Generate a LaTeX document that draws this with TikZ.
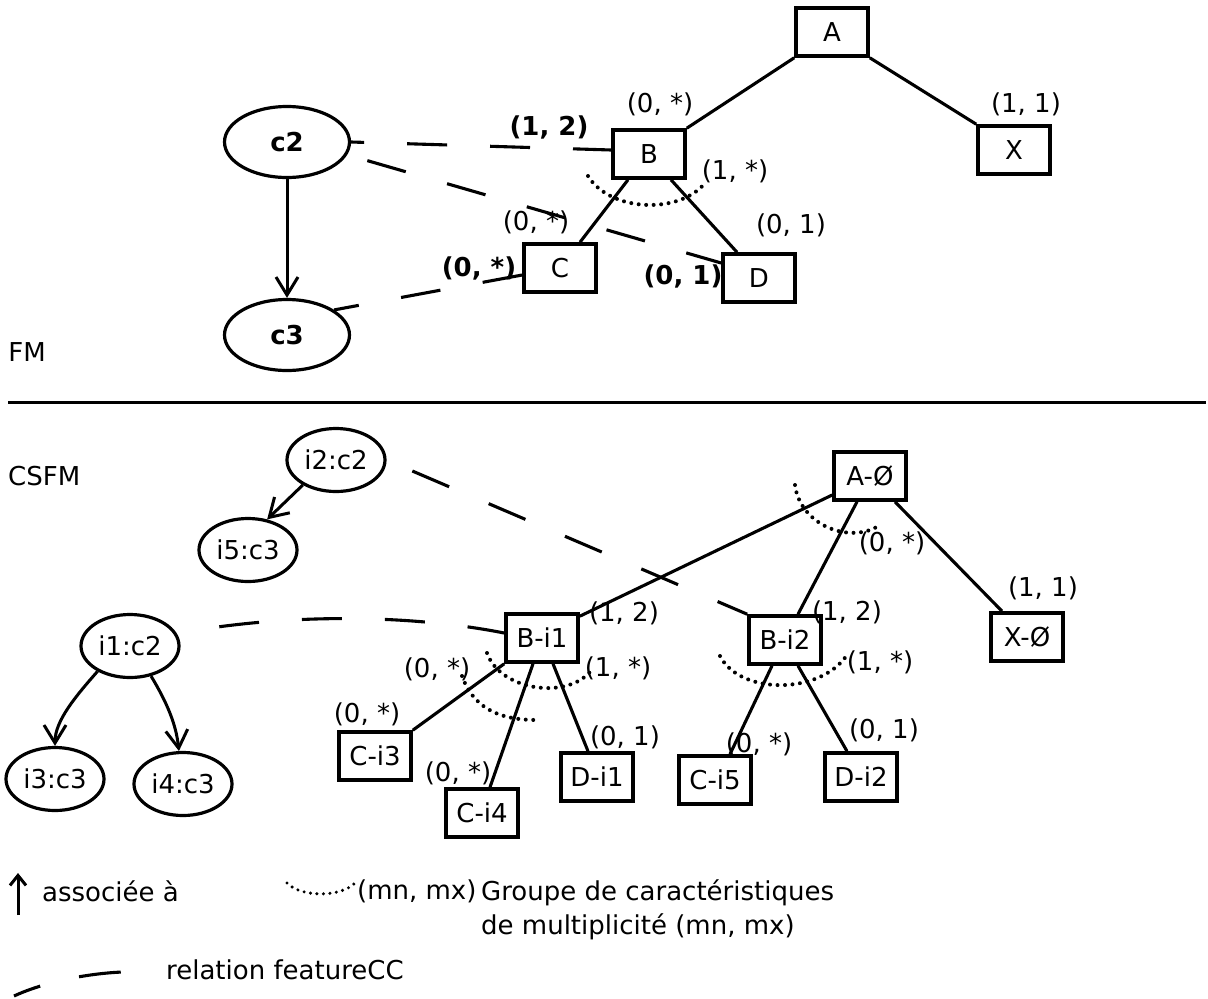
\documentclass[tikz,border=0pt]{standalone}
\usepackage{fontspec}
\setmainfont{DejaVu Sans}
\usetikzlibrary{arrows.meta,shapes.geometric}
\begin{document}
\begin{tikzpicture}[x=1pt,y=-1pt,
  every node/.style={font=\fontsize{26}{31}\selectfont},
  feat/.style={draw,line width=3.6pt,minimum width=72pt,minimum height=48pt,inner sep=0pt},
  cls/.style={draw,ellipse,line width=3.2pt,inner sep=0pt,minimum width=98pt,minimum height=63pt},
  bigcls/.style={cls,minimum width=125pt,minimum height=71pt},
  lbl/.style={inner sep=0pt},
  edge/.style={line width=3.1pt},
  cc/.style={line width=3.1pt,dash pattern=on 40pt off 43pt},
  grp/.style={line width=4pt,dash pattern=on 0pt off 7.5pt,line cap=round},
  assoc/.style={line width=3pt,-{Straight Barb[length=18pt,width=22pt]}},
  smallassoc/.style={line width=3pt,-{Straight Barb[length=10pt,width=16pt]}}]
\useasboundingbox (0,0) rectangle (1208,999);

% ---------------- FM ----------------
\node[feat] (A) at (832,32) {A};
\node[feat] (X) at (1014,150) {X};
\node[feat] (B) at (649,154) {B};
\node[feat] (C) at (560,268) {C};
\node[feat] (D) at (759,278) {D};
\node[bigcls] (c2) at (287,142) {\textbf{c2}};
\node[bigcls] (c3) at (287,335) {\textbf{c3}};

\draw[edge] (A.south west) -- (B.north east);
\draw[edge] (A.south east) -- (X.north west);
\draw[edge] ([xshift=-21pt]B.south) -- ([xshift=20pt]C.north);
\draw[edge] ([xshift=22pt]B.south) -- ([xshift=-22pt]D.north);
\draw[assoc] (c2.south) -- (c3.north);

\draw[cc,dash phase=27pt] (c2.east) -- ([yshift=4pt]B.west);
\draw[cc,dash phase=62pt] (c2.-12) -- ([yshift=15pt]D.west);
\draw[cc,dash phase=15pt] (c3.28) -- ([yshift=-7pt]C.west);

\draw[grp] (588,176) .. controls (610,212) and (680,215) .. (706,182);

\node[lbl] (lB) at (660,104) {(0, *)};
\node[lbl] (lX) at (1026,104) {(1, 1)};
\node[lbl] (lg) at (735,171) {(1, *)};
\node[lbl] (lC) at (536,222) {(0, *)};
\node[lbl] (lD) at (791,225) {(0, 1)};
\node[lbl] (mB) at (549,127) {\textbf{(1, 2)}};
\node[lbl] (mC) at (479,268) {\textbf{(0, *)}};
\node[lbl] (mD) at (683,276) {\textbf{(0, 1)}};

\node[lbl] (fm) at (27,352) {FM};
\coordinate (s1) at (8,402);
\coordinate (s2) at (1206,402);
\draw[line width=3pt] (s1) -- (s2);

% ---------------- CSFM ----------------
\node[lbl,anchor=west] (csfm) at (8,476) {CSFM};
\node[feat] (A0) at (870,476) {A-Ø};
\node[feat] (X0) at (1027,637) {X-Ø};
\node[feat] (Bi1) at (542,638) {B-i1};
\node[feat] (Bi2) at (785,640) {B-i2};
\node[feat] (Ci3) at (375,756) {C-i3};
\node[feat] (Ci4) at (482,813) {C-i4};
\node[feat] (Di1) at (597,777) {D-i1};
\node[feat] (Ci5) at (715,780) {C-i5};
\node[feat] (Di2) at (861,777) {D-i2};

\node[cls] (i2) at (336,460) {i2:c2};
\node[cls] (i5) at (248,550) {i5:c3};
\node[cls] (i1) at (130,646) {i1:c2};
\node[cls] (i3) at (55,779) {i3:c3};
\node[cls] (i4) at (183,784) {i4:c3};

\draw[edge] ([yshift=-19pt]A0.west) -- ([yshift=-4pt]Bi1.north east);
\draw[edge] ([xshift=-13pt]A0.south) -- ([xshift=13pt]Bi2.north);
\draw[edge] ([xshift=25pt]A0.south) -- ([xshift=-25pt]X0.north);
\draw[edge] (Bi1.south west) -- (Ci3.north east);
\draw[edge] ([xshift=-9pt]Bi1.south) -- ([xshift=8pt]Ci4.north);
\draw[edge] ([xshift=11pt]Bi1.south) -- ([xshift=-9pt]Di1.north);
\draw[edge] ([xshift=-13pt]Bi2.south) -- ([xshift=15pt]Ci5.north);
\draw[edge] ([xshift=13pt]Bi2.south) -- ([xshift=-14pt]Di2.north);

\draw[assoc] (i2.217) -- (i5.58);
\draw[assoc] (i1.218) .. controls +(-22,25) and +(0,-25) .. (i3.north);
\draw[assoc] (i1.305) .. controls +(15,25) and +(-3,-28) .. (i4.97);

\draw[cc,dash phase=40pt] (i1.15) .. controls +(120,-22) and +(-86,-17) .. ([yshift=5pt]Bi1.west);
\draw[cc,dash phase=55pt] (i2.east) -- (Bi2.north west);

\draw[grp] (795,485) .. controls (800,525) and (850,545) .. (880,525);
\draw[grp] (487,653) .. controls (500,690) and (565,700) .. (590,672);
\draw[grp] (462,676) .. controls (475,712) and (505,720) .. (537,720);
\draw[grp] (720,656) .. controls (740,695) and (820,695) .. (847,655);

\node[lbl] (lA0) at (892,543) {(0, *)};
\node[lbl] (lX0) at (1043,588) {(1, 1)};
\node[lbl] (lBi1) at (624,613) {(1, 2)};
\node[lbl] (lBi2) at (847,612) {(1, 2)};
\node[lbl] (g1) at (618,668) {(1, *)};
\node[lbl] (g2) at (437,669) {(0, *)};
\node[lbl] (g3) at (880,662) {(1, *)};
\node[lbl] (lCi3) at (367,714) {(0, *)};
\node[lbl] (lDi1) at (625,737) {(0, 1)};
\node[lbl] (lCi4) at (458,773) {(0, *)};
\node[lbl] (lCi5) at (759,744) {(0, *)};
\node[lbl] (lDi2) at (884,730) {(0, 1)};

% ---------------- legend ----------------
\coordinate (ka) at (18,915);
\coordinate (kb) at (18,873);
\draw[smallassoc] (ka) -- (kb);
\node[lbl,anchor=west] (t1) at (42,891) {associée à};
\coordinate (kc) at (287,883);
\coordinate (kd) at (355,883);
\draw[grp,line width=3.4pt,dash pattern=on 0pt off 6.5pt] (kc) .. controls (300,897) and (340,898) .. (kd);
\node[lbl,anchor=west] (t2) at (357,891) {(mn, mx)};
\node[lbl,anchor=west] (t3) at (481,893) {Groupe de caractéristiques};
\node[lbl,anchor=west] (t4) at (481,927) {de multiplicité (mn, mx)};
\coordinate (ke) at (14,996);
\coordinate (kf) at (122,972);
\draw[cc,dash pattern=on 42pt off 40pt,dash phase=14pt] (ke) .. controls (40,984) and (80,974) .. (kf);
\node[lbl,anchor=west] (t5) at (166,970) {relation featureCC};
\end{tikzpicture}
\end{document}
